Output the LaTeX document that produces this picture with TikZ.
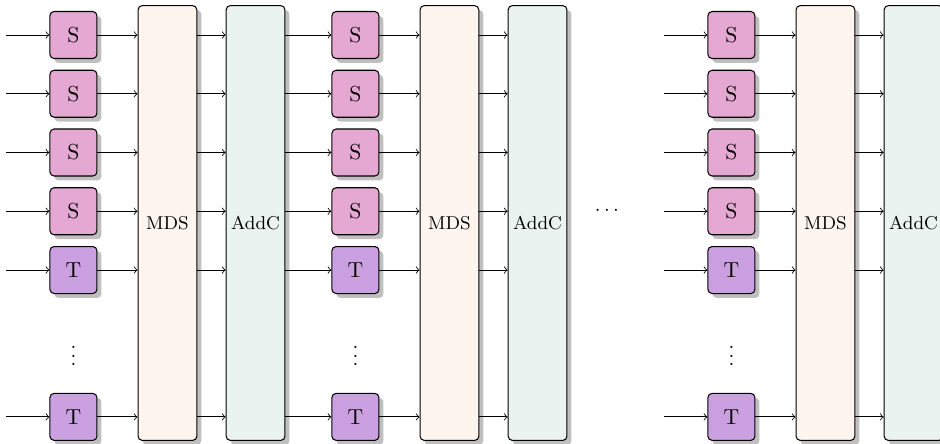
\documentclass[tikz,border=0pt]{standalone}
\usetikzlibrary{shadows}
\definecolor{scol}{HTML}{E4A8D2}
\definecolor{tcol}{HTML}{CBA0E0}
\definecolor{mdscol}{HTML}{FDF5EE}
\definecolor{addcol}{HTML}{EAF3EF}
\begin{document}
\begin{tikzpicture}[
  sbox/.style={draw, line width=0.5pt, rounded corners=2pt, minimum width=0.8cm, minimum height=0.8cm, inner sep=0pt, drop shadow, font=\fontsize{10.5}{12}\selectfont},
  boxS/.style={fill=scol},
  boxT/.style={fill=tcol},
  bigbox/.style={draw, line width=0.5pt, rounded corners=2pt, minimum width=1cm, minimum height=7.4cm, inner sep=0pt, drop shadow, font=\fontsize{9}{11}\selectfont},
  conn/.style={->, line width=0.4pt}
]
\useasboundingbox (0,0.596) rectangle (16,-6.945);
\foreach \st/\sx/\mx/\ax in {1/1.25/2.85/4.35, 2/6.05/7.65/9.15, 3/12.45/14.05/15.55} {
  \node[bigbox, fill=mdscol] (m\st) at (\mx,-3.2) {MDS};
  \node[bigbox, fill=addcol] (a\st) at (\ax,-3.2) {AddC};
  \foreach \r/\y/\l in {1/0/S,2/-1/S,3/-2/S,4/-3/S,5/-4/T,6/-6.5/T} {
    \node[sbox, box\l] (s\st-\r) at (\sx,\y) {\l};
    \draw[conn] (s\st-\r.east) -- (s\st-\r.east -| m\st.west);
    \draw[conn] (m\st.east |- s\st-\r) -- (a\st.west |- s\st-\r);
  }
  \node (vd\st) at (\sx,-5.36) {$\vdots$};
}
% inputs for stages 1 and 3
\foreach \st/\ix in {1/0.1, 3/11.3} {
  \foreach \r in {1,...,6} {
    \coordinate (in\st-\r) at (\ix, 0 |- s\st-\r);
    \draw[conn] (in\st-\r) -- (s\st-\r.west);
  }
}
% stage 1 to stage 2
\foreach \r in {1,...,6} {
  \draw[conn] (a1.east |- s2-\r) -- (s2-\r.west);
}
\node (hd) at (10.33,-3) {$\cdots$};
\end{tikzpicture}
\end{document}
